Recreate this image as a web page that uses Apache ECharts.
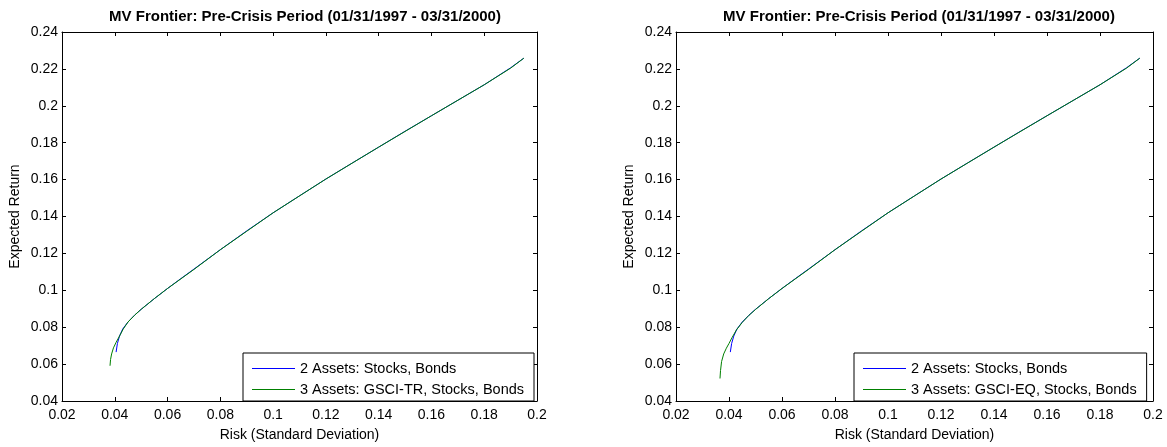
<!DOCTYPE html>
<html>
<head>
<meta charset="utf-8">
<script src="https://cdn.jsdelivr.net/npm/echarts@6/dist/echarts.min.js"></script>
<style>
html,body{margin:0;padding:0;background:#fff;}
#c{width:1167px;height:447px;}
</style>
</head>
<body>
<div id="c"></div>
<script>
// ---- data ----
const chartTitle = 'MV Frontier: Pre-Crisis Period (01/31/1997 - 03/31/2000)';
const xName = 'Risk (Standard Deviation)';
const yName = 'Expected Return';
const name2 = '2 Assets: Stocks, Bonds';
const nameLeft3 = '3 Assets: GSCI-TR, Stocks, Bonds';
const nameRight3 = '3 Assets: GSCI-EQ, Stocks, Bonds';

// 2 assets (same in both panels)
const twoRisk   = [0.0405, 0.0410, 0.0418, 0.0430, 0.0450, 0.0475, 0.0500, 0.0550, 0.0600, 0.0650, 0.0700, 0.0800, 0.0900, 0.1000, 0.1100, 0.1200, 0.1300, 0.1400, 0.1500, 0.1600, 0.1700, 0.1800, 0.1900, 0.1950];
const twoReturn = [0.0665, 0.0712, 0.0752, 0.0790, 0.0828, 0.0865, 0.0897, 0.0955, 0.1010, 0.1063, 0.1115, 0.1220, 0.1322, 0.1420, 0.1512, 0.1603, 0.1690, 0.1776, 0.1862, 0.1946, 0.2030, 0.2114, 0.2206, 0.2258];

// 3 assets with GSCI-TR (left panel)
const trRisk   = [0.0382, 0.0384, 0.0388, 0.0395, 0.0405, 0.0418, 0.0432, 0.0450, 0.0475, 0.0500, 0.0550, 0.0600, 0.0700, 0.0800, 0.0900, 0.1000, 0.1200, 0.1400, 0.1600, 0.1800, 0.1900, 0.1950];
const trReturn = [0.0591, 0.0625, 0.0655, 0.0688, 0.0718, 0.0752, 0.0790, 0.0828, 0.0865, 0.0897, 0.0955, 0.1010, 0.1113, 0.1220, 0.1320, 0.1420, 0.1603, 0.1776, 0.1946, 0.2114, 0.2204, 0.2258];

// 3 assets with GSCI-EQ (right panel)
const eqRisk   = [0.0366, 0.0368, 0.0372, 0.0380, 0.0390, 0.0400, 0.0412, 0.0428, 0.0450, 0.0475, 0.0500, 0.0550, 0.0600, 0.0700, 0.0800, 0.0900, 0.1000, 0.1200, 0.1400, 0.1600, 0.1800, 0.1900, 0.1950];
const eqReturn = [0.0522, 0.0565, 0.0614, 0.0655, 0.0686, 0.0712, 0.0745, 0.0785, 0.0826, 0.0864, 0.0896, 0.0955, 0.1010, 0.1113, 0.1220, 0.1320, 0.1420, 0.1603, 0.1776, 0.1946, 0.2114, 0.2204, 0.2258];

const xMin = 0.02, xMax = 0.2, xStep = 0.02;
const yMin = 0.04, yMax = 0.24, yStep = 0.02;

// ---- build ----
const FONT = '"Liberation Sans", Arial, sans-serif';
const pair = (a, b) => a.map((v, i) => [v, b[i]]);
const BLUE = '#0000ff', GREEN = '#008000';

const grids = [
  {left: 62, top: 32, width: 475, height: 373},
  {left: 676, top: 32, width: 477, height: 373}
];

function xAxes(gi) {
  const base = {
    type: 'value', gridIndex: gi, min: xMin, max: xMax, interval: xStep,
    axisLine: {show: true, onZero: false, lineStyle: {color: '#000', width: 1}},
    axisTick: {show: true, inside: true, length: 4, lineStyle: {color: '#000'}},
    splitLine: {show: false}
  };
  return [
    Object.assign({}, base, {
      position: 'bottom',
      axisLabel: {show: true, color: '#000', fontFamily: FONT, fontSize: 14, margin: 7, showMinLabel: true, showMaxLabel: true},
      name: xName, nameLocation: 'middle', nameGap: 27,
      nameTextStyle: {color: '#000', fontFamily: FONT, fontSize: 14}
    }),
    Object.assign({}, base, {position: 'top', axisLabel: {show: false}})
  ];
}
function yAxes(gi) {
  const base = {
    type: 'value', gridIndex: gi, min: yMin, max: yMax, interval: yStep,
    axisLine: {show: true, onZero: false, lineStyle: {color: '#000', width: 1}},
    axisTick: {show: true, inside: true, length: 4, lineStyle: {color: '#000'}},
    splitLine: {show: false}
  };
  return [
    Object.assign({}, base, {
      position: 'left',
      axisLabel: {show: true, color: '#000', fontFamily: FONT, fontSize: 14, margin: 4, showMinLabel: true, showMaxLabel: true},
      name: yName, nameLocation: 'middle', nameGap: 40, nameRotate: 90,
      nameTextStyle: {color: '#000', fontFamily: FONT, fontSize: 14}
    }),
    Object.assign({}, base, {position: 'right', axisLabel: {show: false}})
  ];
}

function line(name, xs, ys, color, axisIdx) {
  return {
    type: 'line', name: name, data: pair(xs, ys),
    xAxisIndex: axisIdx, yAxisIndex: axisIdx,
    symbol: 'none', smooth: false, animation: false,
    lineStyle: {color: color, width: 1}, itemStyle: {color: color}
  };
}

function legend(left, names) {
  return {
    data: names, orient: 'vertical', left: left, top: 353,
    icon: 'rect',
    padding: [8, 10, 4, 9], itemGap: 6, itemWidth: 43, itemHeight: 1,
    borderColor: '#000', borderWidth: 1, backgroundColor: '#fff', borderRadius: 0,
    selectedMode: false,
    textStyle: {color: '#000', fontFamily: FONT, fontSize: 14.5, lineHeight: 14}
  };
}

const option = {
  animation: false,
  backgroundColor: '#fff',
  title: [
    {text: chartTitle, left: 300, top: 4, textAlign: 'center',
     textStyle: {fontFamily: FONT, fontSize: 15, fontWeight: 'bold', color: '#000'}},
    {text: chartTitle, left: 914, top: 4, textAlign: 'center',
     textStyle: {fontFamily: FONT, fontSize: 15, fontWeight: 'bold', color: '#000'}}
  ],
  grid: grids,
  xAxis: [].concat(xAxes(0), xAxes(1)),
  yAxis: [].concat(yAxes(0), yAxes(1)),
  legend: [legend(243, [name2, nameLeft3]), legend(854, [name2, nameRight3])],
  series: [
    line(name2, twoRisk, twoReturn, BLUE, 0),
    line(nameLeft3, trRisk, trReturn, GREEN, 0),
    line(name2, twoRisk, twoReturn, BLUE, 2),
    line(nameRight3, eqRisk, eqReturn, GREEN, 2)
  ]
};

const chart = echarts.init(document.getElementById('c'), null, {renderer: 'canvas'});
chart.setOption(option);
</script>
</body>
</html>
